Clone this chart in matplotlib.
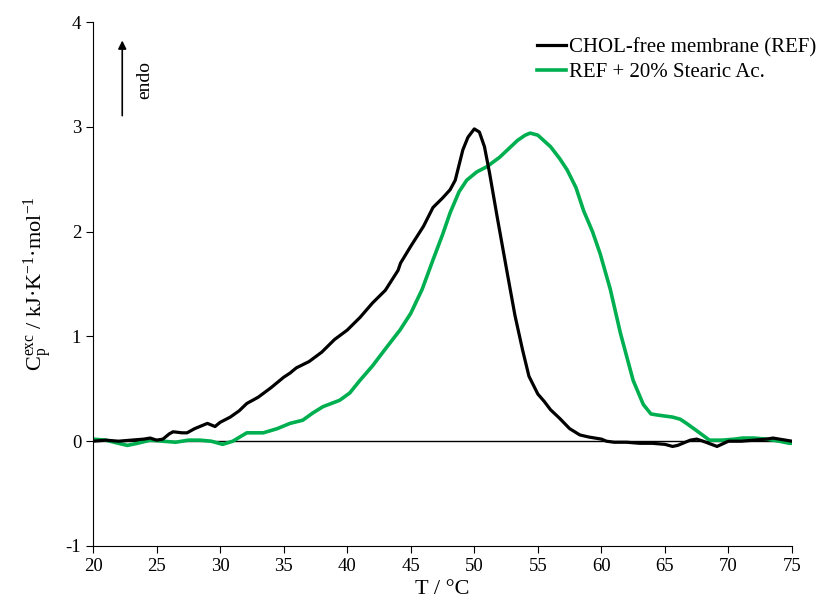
import matplotlib.pyplot as plt

plt.rcParams["font.family"] = "Liberation Serif"
plt.rcParams["mathtext.fontset"] = "custom"
plt.rcParams["mathtext.rm"] = "Liberation Serif"
plt.rcParams["mathtext.it"] = "Liberation Serif:italic"
plt.rcParams["axes.unicode_minus"] = False

# CHOL-free membrane (REF)
t_ref = [20, 21, 22, 23, 24, 24.5, 25, 25.5, 26, 26.3, 27, 27.4, 28, 29, 29.6,
         30, 30.8, 31.5, 32.1, 33, 34, 34.5, 35, 35.5, 36, 37, 38, 39, 40, 41,
         42, 43, 44, 44.2, 45, 46, 46.75, 47.5, 48.1, 48.5, 49.1, 49.5, 50,
         50.4, 50.8, 51.2, 51.8, 52.6, 53.2, 53.8, 54.3, 55, 55.5, 56, 56.7,
         57.5, 58.3, 59, 60, 60.4, 61, 62, 63, 64, 65, 65.6, 66, 67, 67.5, 68,
         69.1, 70, 71, 72, 73, 73.5, 74, 75]
cp_ref = [0, 0.01, 0, 0.01, 0.02, 0.03, 0.01, 0.02, 0.07, 0.09, 0.08, 0.08,
          0.12, 0.17, 0.14, 0.18, 0.23, 0.29, 0.36, 0.42, 0.51, 0.56, 0.61,
          0.65, 0.70, 0.76, 0.85, 0.97, 1.06, 1.18, 1.32, 1.44, 1.63, 1.70,
          1.86, 2.05, 2.23, 2.32, 2.40, 2.49, 2.78, 2.90, 2.98, 2.95, 2.81,
          2.56, 2.14, 1.60, 1.20, 0.87, 0.62, 0.45, 0.38, 0.30, 0.22, 0.12,
          0.06, 0.04, 0.02, 0.0, -0.01, -0.01, -0.02, -0.02, -0.03, -0.05,
          -0.04, 0.01, 0.02, 0.0, -0.05, 0.0, 0.0, 0.01, 0.02, 0.03, 0.02, 0.0]

# REF + 20% Stearic Ac.
t_sa = [20, 21, 22, 22.7, 23.5, 24.5, 25.5, 26.5, 27.5, 28.4, 29.3, 30.2, 31,
        32.1, 33.4, 34.5, 35.5, 36.5, 37.3, 38.1, 39.4, 40.2, 41, 42, 43,
        44.15, 45, 45.9, 46.75, 47.5, 48.1, 48.8, 49.4, 50.2, 51, 52, 52.7,
        53.4, 54, 54.4, 55, 56, 56.7, 57.3, 58, 58.6, 59.3, 59.9, 60.7, 61.5,
        62.5, 63.3, 63.9, 64.4, 65, 65.6, 66.2, 66.7, 67.5, 68.5, 69.5, 70.5,
        71.1, 72, 73, 74, 74.8, 75]
cp_sa = [0.02, 0.01, -0.02, -0.04, -0.02, 0.01, 0.0, -0.01, 0.01, 0.01, 0.0,
         -0.03, 0.0, 0.08, 0.08, 0.12, 0.17, 0.20, 0.27, 0.33, 0.39, 0.46,
         0.58, 0.72, 0.88, 1.06, 1.22, 1.45, 1.73, 1.97, 2.18, 2.38, 2.49,
         2.57, 2.62, 2.71, 2.79, 2.87, 2.92, 2.94, 2.92, 2.81, 2.70, 2.59,
         2.42, 2.20, 2.00, 1.79, 1.45, 1.03, 0.58, 0.35, 0.26, 0.25, 0.24,
         0.23, 0.21, 0.17, 0.10, 0.01, 0.01, 0.02, 0.03, 0.03, 0.02, 0.0,
         -0.02, -0.02]

fig = plt.figure(figsize=(8.21, 6.13), dpi=100)
ax = fig.add_axes([0.1133, 0.1093, 0.8514, 0.8548])

ax.axhline(0, color="black", lw=1.0, zorder=1)
ax.plot(t_ref, cp_ref, color="black", lw=2.3, label="CHOL-free membrane (REF)", zorder=3)
ax.plot(t_sa, cp_sa, color="#00B050", lw=2.6, label="REF + 20% Stearic Ac.", zorder=2)

ax.set_xlim(20, 75)
ax.set_ylim(-1, 4)
ax.set_xticks(range(20, 76, 5))
ax.set_yticks(range(-1, 5))
ax.spines["top"].set_visible(False)
ax.spines["right"].set_visible(False)
ax.tick_params(direction="out", length=5, labelsize=13.5)

ax.set_xlabel("T / °C", fontsize=16, labelpad=4)
ax.set_ylabel(r"C$_\mathregular{p}^\mathregular{exc}$ / kJ·K$^\mathregular{-1}$·mol$^\mathregular{-1}$",
              fontsize=16, labelpad=8)

# endo arrow
ax.annotate("", xy=(22.3, 3.85), xytext=(22.3, 3.08),
            arrowprops=dict(arrowstyle="-|>", color="black", lw=1.2, mutation_scale=12))
ax.text(24.1, 3.45, "endo", rotation=90, ha="center", va="center", fontsize=14)

ax.legend(loc="upper right", bbox_to_anchor=(1.062, 1.005), frameon=False,
          fontsize=15, handlelength=1.4, handletextpad=0.15, labelspacing=0.22)

fig.savefig("out.png", dpi=100)
